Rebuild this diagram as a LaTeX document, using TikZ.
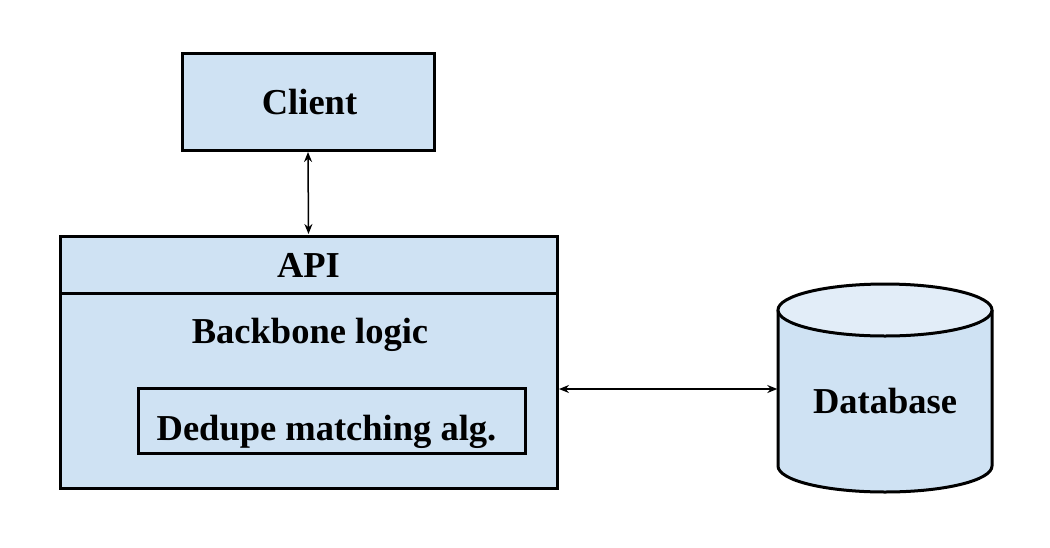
\documentclass[tikz,border=0pt]{standalone}
\usepackage{fontspec}
\setmainfont{Liberation Serif}
\usetikzlibrary{arrows.meta}
\definecolor{boxfill}{HTML}{CFE2F3}
\definecolor{topfill}{HTML}{E2EDF8}
\tikzset{
  box/.style={draw=black, line width=3pt, fill=boxfill, inner sep=0pt},
  lbl/.style={font=\fontsize{36.5}{40}\selectfont\bfseries, inner sep=0pt, anchor=base},
  conn/.style={line width=1.5pt, {Stealth[length=10pt,width=8pt]}-{Stealth[length=10pt,width=8pt]}, shorten <=0.5pt, shorten >=0.5pt}
}
\begin{document}
\begin{tikzpicture}[x=1pt,y=-1pt]
\useasboundingbox (0,0) rectangle (1050,547);
% Client
\node[box, minimum width=252pt, minimum height=97pt] (client) at (308,101.5) {};
\node[lbl] (clientt) at (309.5,114) {Client};
% API / backbone
\node[box, minimum width=497pt, minimum height=252pt] (api) at (308.5,362) {};
\draw[line width=3pt] (60,293) -- (557,293);
\node[lbl] (apit) at (308.5,277) {API};
\node[lbl] (backt) at (310,343) {Backbone logic};
\node[box, minimum width=387pt, minimum height=65pt] (dedupe) at (331.5,420.5) {};
\node[lbl] (dedupet) at (326.5,440) {Dedupe matching alg.};
% Database cylinder
\draw[line width=3pt, fill=boxfill] (778,310) -- (778,466) arc[start angle=180, end angle=0, x radius=107, y radius=26] -- (992,310);
\draw[line width=3pt, fill=topfill] (885,310) ellipse[x radius=107, y radius=26];
\node[minimum width=214pt, minimum height=208pt, inner sep=0pt] (db) at (885,388) {};
\node[lbl] (dbt) at (885,413) {Database};
% connectors
\draw[conn] (client.south) -- (api.north);
\draw[conn] (api.east |- 0,389) -- (db.west |- 0,389);
\end{tikzpicture}
\end{document}
